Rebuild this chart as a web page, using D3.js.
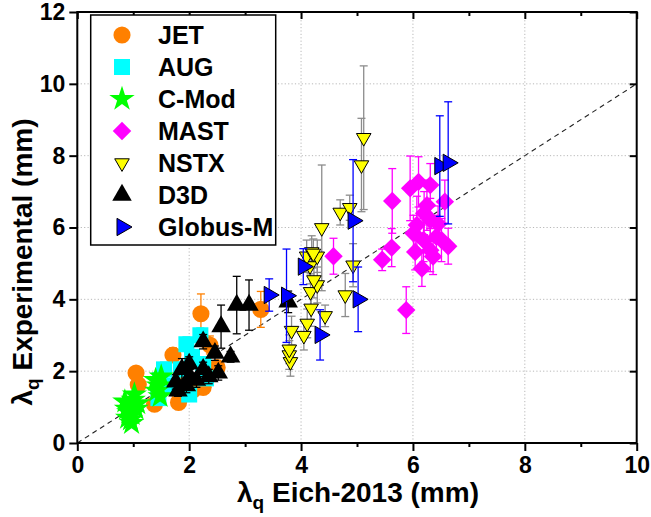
<!DOCTYPE html>
<html>
<head>
<meta charset="utf-8">
<script src="https://cdnjs.cloudflare.com/ajax/libs/d3/7.8.5/d3.min.js"></script>
<style>
body { margin:0; background:#fff; }
text { font-family: "Liberation Sans", Arial, sans-serif; font-weight: bold; fill:#000; }
</style>
</head>
<body>
<div id="chart"></div>
<script>
// each point is [lambda_q Eich-2013, lambda_q measured, error] in mm
var jet = [[1.05,1.95,0.15],[1.09,1.62,0.15],[1.38,1.08,0.12],[1.71,2.45,0.2],[1.81,1.13,0.12],
    [2.07,1.48,0.15],[2.25,1.55,0.15],[2.37,2.73,0.25],[2.50,2.10,0.2],[2.21,3.60,0.55],
    [3.28,3.72,0.5],[1.95,1.75,0.2],[2.30,1.95,0.2]];
var aug = [[2.20,3.00,0.2],[1.95,2.75,0.2],[2.05,2.40,0.2],[1.55,2.05,0.2],[1.48,1.75,0.2],
    [1.45,1.25,0.15],[2.30,1.80,0.15],[2.25,2.20,0.2],[1.70,1.60,0.15],[2.00,1.35,0.15],[1.85,2.05,0.2]];
var cmod = [[0.90,0.70,0],[0.92,0.85,0],[0.95,1.05,0],[0.97,0.55,0],[1.00,1.20,0],[1.05,0.95,0],
    [0.88,0.95,0],[1.02,1.35,0],[0.95,0.65,0],[0.85,1.15,0],[1.08,1.10,0],[0.98,0.80,0],
    [1.40,1.75,0],[1.42,1.45,0],[1.48,1.30,0],[1.45,1.60,0],[1.50,1.85,0]];
var mast = [[4.58,5.20,0.5],[5.45,5.10,0.3],[5.62,5.44,0.53],[5.63,6.74,0.9],[5.88,3.70,0.65],
    [5.95,7.09,0.9],[6.10,7.27,0.7],[6.31,7.18,0.6],[6.57,6.72,0.6],[6.25,6.62,0.7],[6.07,6.07,0.8],
    [6.31,6.21,0.6],[6.01,5.84,0.5],[6.19,5.65,0.6],[6.42,5.74,0.6],[6.63,5.48,0.5],[6.31,5.37,0.6],
    [6.04,5.32,0.5],[6.16,4.86,0.5],[6.36,5.19,0.5],[6.51,5.65,0.6],[6.20,6.40,0.6],[6.45,6.10,0.5]];
var nstx = [[3.81,2.26,0.4],[3.79,2.45,0.4],[3.79,2.61,0.4],[3.83,3.13,0.4],[4.05,2.99,0.4],
    [4.11,3.33,0.4],[4.18,3.75,0.5],[4.43,3.54,0.3],[4.17,4.21,0.5],[4.29,4.40,0.5],[4.23,4.54,0.5],
    [4.16,4.93,0.5],[4.10,5.20,0.45],[4.19,5.32,0.45],[4.29,5.20,0.45],[4.22,5.28,0.4],[4.37,5.99,1.75],
    [4.79,4.12,0.6],[4.93,4.95,0.6],[4.70,6.42,0.35],[4.87,6.55,0.35],[5.08,7.74,1.3],[5.12,8.50,2.0]];
var d3d = [[2.85,3.84,0.8],[3.07,3.84,0.7],[2.57,3.24,0.6],[2.74,2.40,0.15],[2.25,2.82,0.2],
    [2.46,2.50,0.2],[2.52,1.95,0.2],[1.87,2.05,0.3],[1.76,1.70,0.2],[2.25,2.05,0.2],[2.01,1.85,0.2],
    [2.13,1.75,0.2],[1.80,1.45,0.15],[2.00,2.20,0.2],[3.77,3.93,0.3],[1.95,1.60,0.2],[2.35,1.85,0.2]];
var globus = [[3.43,4.12,0.45],[3.74,4.10,1.3],[4.04,4.91,0.5],[4.34,3.01,0.7],[4.93,6.19,1.7],
    [5.02,4.00,0.9],[6.48,7.71,1.4],[6.63,7.80,1.7]];

var seriesNames = ["JET","AUG","C-Mod","MAST","NSTX","D3D","Globus-M"];
var xTicks = [0,2,4,6,8,10];
var xMinor = [1,3,5,7,9];
var yTicks = [0,2,4,6,8,10,12];

var width = 651, height = 517;

// marker look per series, same order as seriesNames
var styles = [
    {data:jet,    type:d3.symbolCircle,   size:230, rot:0,   fill:"#ff8000", stroke:"none", bar:"#ff8000"},
    {data:aug,    type:d3.symbolSquare,   size:256, rot:0,   fill:"#00ffff", stroke:"none", bar:"#00e0e0"},
    {data:cmod,   type:d3.symbolStar,     size:200, rot:0,   fill:"#00ff00", stroke:"none", bar:"#00ff00"},
    {data:mast,   type:d3.symbolSquare,   size:170, rot:45,  fill:"#ff00ff", stroke:"none", bar:"#ff00ff"},
    {data:nstx,   type:d3.symbolTriangle, size:92,  rot:180, fill:"#ffff00", stroke:"#000", bar:"#8c8c8c"},
    {data:d3d,    type:d3.symbolTriangle, size:165, rot:0,   fill:"#000000", stroke:"none", bar:"#000"},
    {data:globus, type:d3.symbolTriangle, size:130, rot:90,  fill:"#0000ff", stroke:"#000", bar:"#0000ff"}
];

function draw() {
    var svg = d3.select("#chart").append("svg")
        .attr("width", width)
        .attr("height", height);

    var x = d3.scaleLinear().domain([0,10]).range([77.3,636.7]);
    var y = d3.scaleLinear().domain([0,12]).range([443,12]);

    // dotted grid
    svg.append("g").selectAll("line")
        .data(xTicks.slice(1,-1))
        .enter().append("line")
        .attr("x1",function(d) { return x(d); })
        .attr("x2",function(d) { return x(d); })
        .attr("y1",y(0)).attr("y2",y(12))
        .attr("stroke","#b8b8b8").attr("stroke-dasharray","1.2,2.2");
    svg.append("g").selectAll("line")
        .data(yTicks.slice(1,-1))
        .enter().append("line")
        .attr("y1",function(d) { return y(d); })
        .attr("y2",function(d) { return y(d); })
        .attr("x1",x(0)).attr("x2",x(10))
        .attr("stroke","#b8b8b8").attr("stroke-dasharray","1.2,2.2");

    // y = x reference
    svg.append("line")
        .attr("x1",x(0)).attr("y1",y(0))
        .attr("x2",x(10)).attr("y2",y(10))
        .attr("stroke","#222").attr("stroke-width",1.1)
        .attr("stroke-dasharray","5,4");

    // series
    styles.forEach(function(s) {
        var g = svg.append("g");
        var bars = s.data.filter(function(d) { return d[2] > 0; });
        g.selectAll("line.bar").data(bars).enter().append("line")
            .attr("x1",function(d) { return x(d[0]); })
            .attr("x2",function(d) { return x(d[0]); })
            .attr("y1",function(d) { return y(d[1]-d[2]); })
            .attr("y2",function(d) { return y(d[1]+d[2]); })
            .attr("stroke",s.bar).attr("stroke-width",1.3);
        [-1,1].forEach(function(sign) {
            g.selectAll("line.cap"+sign).data(bars).enter().append("line")
                .attr("x1",function(d) { return x(d[0])-4; })
                .attr("x2",function(d) { return x(d[0])+4; })
                .attr("y1",function(d) { return y(d[1]+sign*d[2]); })
                .attr("y2",function(d) { return y(d[1]+sign*d[2]); })
                .attr("stroke",s.bar).attr("stroke-width",1.3);
        });
        g.selectAll("path").data(s.data).enter().append("path")
            .attr("d", d3.symbol().type(s.type).size(s.size))
            .attr("transform",function(d) {
                return "translate("+x(d[0])+","+y(d[1])+") rotate("+s.rot+")"; })
            .attr("fill",s.fill)
            .attr("stroke",s.stroke)
            .attr("stroke-width",1);
    });

    // axes: bottom/left ticks out, top/right ticks in
    var bottom = svg.append("g").attr("transform","translate(0,"+y(0)+")")
        .call(d3.axisBottom(x).tickValues(xTicks).tickSize(8).tickPadding(6));
    svg.append("g").attr("transform","translate(0,"+y(0)+")")
        .call(d3.axisBottom(x).tickValues(xMinor).tickSize(4).tickFormat(""));
    svg.append("g").attr("transform","translate(0,"+y(12)+")")
        .call(d3.axisBottom(x).tickValues(xTicks).tickSize(7).tickFormat(""));
    svg.append("g").attr("transform","translate(0,"+y(12)+")")
        .call(d3.axisBottom(x).tickValues(xMinor).tickSize(4).tickFormat(""));
    var left = svg.append("g").attr("transform","translate("+x(0)+",0)")
        .call(d3.axisLeft(y).tickValues(yTicks).tickSize(8).tickPadding(4));
    svg.append("g").attr("transform","translate("+x(10)+",0)")
        .call(d3.axisLeft(y).tickValues(yTicks).tickSize(7).tickFormat(""));
    svg.selectAll(".domain").remove();
    svg.selectAll(".tick line").attr("stroke","#000").attr("stroke-width",2);
    bottom.selectAll("text").style("font-size","23px").style("font-family",null);
    left.selectAll("text").style("font-size","23px").style("font-family",null);

    svg.append("rect")
        .attr("x",x(0)).attr("y",y(12))
        .attr("width",x(10)-x(0)).attr("height",y(0)-y(12))
        .attr("fill","none").attr("stroke","#000").attr("stroke-width",2);

    // axis titles
    var xt = svg.append("text")
        .attr("x",358).attr("y",502)
        .attr("text-anchor","middle")
        .style("font-size","28px");
    xt.append("tspan").text("\u03bb");
    xt.append("tspan").attr("dy",7).style("font-size","19px").text("q");
    xt.append("tspan").attr("dy",-7).text(" Eich-2013 (mm)");

    var yt = svg.append("text")
        .attr("transform","translate(32,262) rotate(-90)")
        .attr("text-anchor","middle")
        .style("font-size","28px");
    yt.append("tspan").text("\u03bb");
    yt.append("tspan").attr("dy",7).style("font-size","19px").text("q");
    yt.append("tspan").attr("dy",-7).text(" Experimental (mm)");

    // legend
    var lg = svg.append("g");
    lg.append("rect")
        .attr("x",90.7).attr("y",15).attr("width",185).attr("height",230)
        .attr("fill","#fff").attr("stroke","#000").attr("stroke-width",1.5);
    var rows = lg.selectAll("g.row").data(styles).enter().append("g")
        .attr("transform",function(d,i) { return "translate(0,"+(35+i*32)+")"; });
    rows.append("path")
        .attr("d",function(d) { return d3.symbol().type(d.type).size(d.size)(); })
        .attr("transform",function(d) { return "translate(122,0) rotate("+d.rot+")"; })
        .attr("fill",function(d) { return d.fill; })
        .attr("stroke",function(d) { return d.stroke; })
        .attr("stroke-width",1);
    rows.append("text")
        .attr("x",158).attr("dy","0.36em")
        .style("font-size","25px")
        .text(function(d,i) { return seriesNames[i]; });
}

document.body.onload = function() {
    draw();
};
</script>
</body>
</html>
